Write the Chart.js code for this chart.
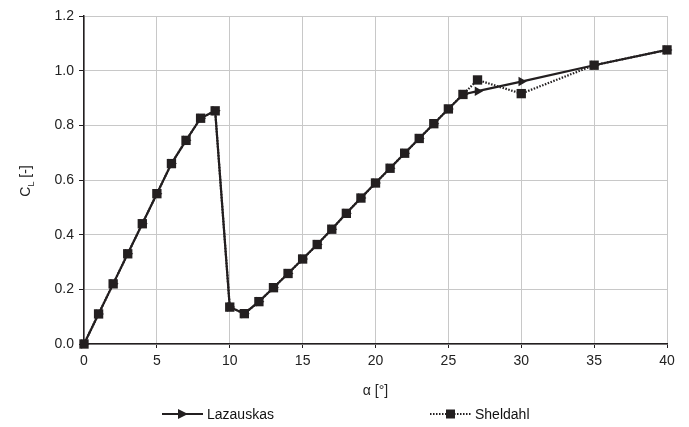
<!DOCTYPE html>
<html><head><meta charset="utf-8">
<script src="https://cdn.jsdelivr.net/npm/chart.js@4/dist/chart.umd.min.js"></script>
<style>html,body{margin:0;padding:0;background:#fff}#wrap{width:689px;height:427px;position:relative}</style>
</head><body><div id="wrap"><canvas id="c" width="689" height="427"></canvas></div>
<script>
const alphaLazauskas = [0,1,2,3,4,5,6,7,8,9,10,11,12,13,14,15,16,17,18,19,20,21,22,23,24,25,26,27,30,35,40];
const clLazauskas = [0,0.11,0.22,0.33,0.44,0.55,0.66,0.745,0.826,0.853,0.135,0.111,0.155,0.206,0.258,0.311,0.364,0.420,0.478,0.534,0.589,0.643,0.698,0.752,0.806,0.860,0.913,0.925,0.960,1.020,1.076];
const alphaSheldahl = [0,1,2,3,4,5,6,7,8,9,10,11,12,13,14,15,16,17,18,19,20,21,22,23,24,25,26,27,30,35,40];
const clSheldahl = [0,0.11,0.22,0.33,0.44,0.55,0.66,0.745,0.826,0.853,0.135,0.111,0.155,0.206,0.258,0.311,0.364,0.420,0.478,0.534,0.589,0.643,0.698,0.752,0.806,0.860,0.913,0.966,0.916,1.020,1.076];
const xTicks = [0,5,10,15,20,25,30,35,40];
const yTicks = [0,0.2,0.4,0.6,0.8,1.0,1.2];
const seriesNames = ['Lazauskas','Sheldahl'];

const INK = '#231f20';
const FONT = '"Liberation Sans", Arial, sans-serif';

function toXY(xs, ys){ return xs.map((x,i)=>({x:x, y:ys[i]})); }

const yTitlePlugin = {
  id: 'yTitle',
  afterDraw(chart){
    const ctx = chart.ctx;
    ctx.save();
    ctx.translate(26, 181);
    ctx.rotate(-Math.PI/2);
    ctx.fillStyle = '#222';
    ctx.textBaseline = 'middle';
    ctx.font = '14px ' + FONT;
    const w1 = ctx.measureText('C').width;
    ctx.font = '9px ' + FONT;
    const w2 = ctx.measureText('L').width;
    ctx.font = '14px ' + FONT;
    const w3 = ctx.measureText(' [-]').width;
    let x = -(w1 + w2 + w3)/2;
    ctx.fillText('C', x, 0); x += w1;
    ctx.font = '9px ' + FONT;
    ctx.fillText('L', x, 6); x += w2;
    ctx.font = '14px ' + FONT;
    ctx.fillText(' [-]', x, 0);
    ctx.restore();
  }
};

const legendPlugin = {
  id: 'customLegend',
  afterDraw(chart){
    const ctx = chart.ctx;
    const y = 414;
    const items = [
      { x: 162, name: seriesNames[0], dotted: false },
      { x: 430, name: seriesNames[1], dotted: true }
    ];
    ctx.save();
    items.forEach(it => {
      ctx.strokeStyle = INK; ctx.fillStyle = INK; ctx.lineWidth = 2.2;
      ctx.setLineDash(it.dotted ? [1.5,1.5] : []);
      ctx.beginPath(); ctx.moveTo(it.x, y); ctx.lineTo(it.x + 41, y); ctx.stroke();
      ctx.setLineDash([]);
      if (it.dotted) {
        ctx.fillRect(it.x + 16, y - 4.5, 9, 9);
      } else {
        ctx.beginPath(); ctx.moveTo(it.x + 26, y); ctx.lineTo(it.x + 16, y - 5); ctx.lineTo(it.x + 16, y + 5); ctx.closePath(); ctx.fill();
      }
      ctx.fillStyle = '#111';
      ctx.font = '14px ' + FONT;
      ctx.textBaseline = 'middle';
      ctx.fillText(it.name, it.x + 45, y + 1);
    });
    ctx.restore();
  }
};

new Chart(document.getElementById('c'), {
  type: 'line',
  data: {
    datasets: [
      {
        label: seriesNames[0],
        data: toXY(alphaLazauskas, clLazauskas),
        borderColor: INK, backgroundColor: INK,
        borderWidth: 2.2,
        pointStyle: 'triangle', pointRotation: 90,
        pointRadius: 5.5, pointBorderWidth: 0,
        clip: false,
        order: 2
      },
      {
        label: seriesNames[1],
        data: toXY(alphaSheldahl, clSheldahl),
        borderColor: INK, backgroundColor: INK,
        borderWidth: 2.2, borderDash: [1.5,1.5],
        pointStyle: 'rect', pointRadius: 6.6, pointBorderWidth: 0,
        clip: false,
        order: 1
      }
    ]
  },
  options: {
    responsive: false,
    animation: false,
    devicePixelRatio: 1,
    layout: { padding: { left: 0, right: 22, top: 16, bottom: 27 } },
    plugins: {
      tooltip: { enabled: false },
      legend: { display: false }
    },
    scales: {
      x: {
        type: 'linear', min: 0, max: 40,
        afterBuildTicks: (s) => { s.ticks = xTicks.map(v=>({value:v})); },
        afterFit: (s) => { s.height = 56; },
        grid: { color: '#c8c8c8', lineWidth: 1, tickLength: 4, tickColor: INK },
        border: { color: INK, width: 1.5 },
        ticks: { color: '#222', font: { family: FONT, size: 14 }, padding: 5, maxRotation: 0 },
        title: { display: true, text: 'α [°]', color: '#222', font: { family: FONT, size: 14 }, padding: { top: 9, bottom: 0 } }
      },
      y: {
        type: 'linear', min: 0, max: 1.2,
        afterBuildTicks: (s) => { s.ticks = yTicks.map(v=>({value:v})); },
        afterFit: (s) => { s.width = 84; },
        grid: { color: '#c8c8c8', lineWidth: 1, tickLength: 5, tickColor: INK },
        border: { color: INK, width: 1.5 },
        ticks: { color: '#222', font: { family: FONT, size: 14 }, padding: 5, callback: (v) => Number(v).toFixed(1) }
      }
    }
  },
  plugins: [yTitlePlugin, legendPlugin]
});
</script>
</body></html>
